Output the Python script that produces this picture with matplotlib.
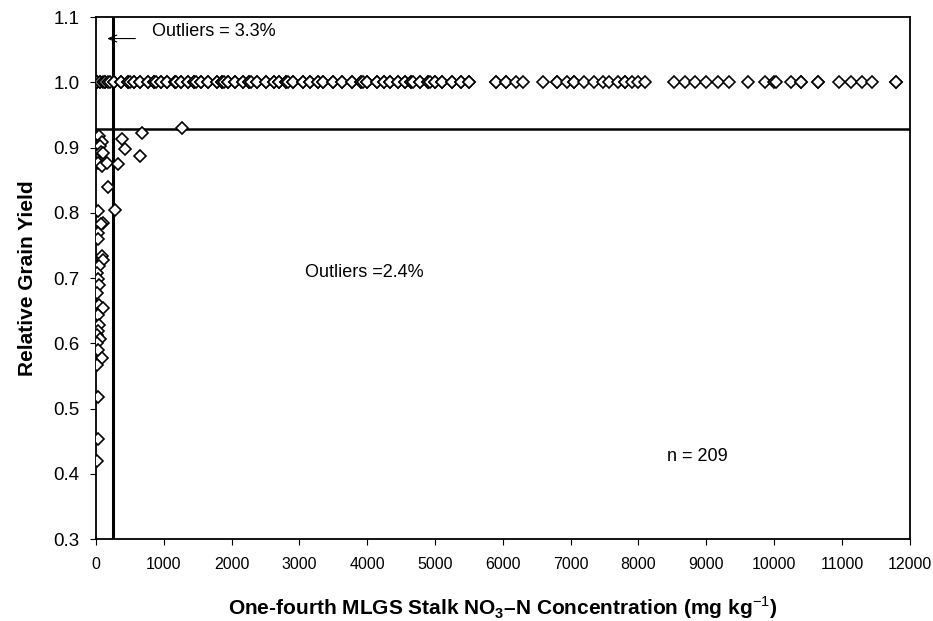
import matplotlib
matplotlib.use("Agg")
import matplotlib.pyplot as plt

plt.rcParams['font.family'] = ['Liberation Sans', 'DejaVu Sans']
plt.rcParams['mathtext.fontset'] = 'custom'
plt.rcParams['mathtext.rm'] = 'Liberation Sans'
plt.rcParams['mathtext.bf'] = 'Liberation Sans:bold'

# Stalk NO3-N (mg/kg) for sites reaching maximum yield (relative yield = 1.0)
nitrate_full_yield = [
    20, 20, 60, 60, 95, 130, 130, 180, 210,
    260, 260, 360, 360, 470, 470, 500, 560, 560, 650, 650, 760, 760,
    850, 850, 880, 950, 950, 1050, 1050, 1160, 1160, 1180, 1250, 1250,
    1360, 1360, 1450, 1450, 1480, 1550, 1550, 1650, 1650, 1780, 1780,
    1850, 1850, 1880, 1950, 1950, 2050, 2050, 2170, 2170, 2250, 2250,
    2280, 2380, 2380, 2500, 2500, 2620, 2620, 2700, 2700, 2800, 2800,
    2830, 2900, 2900, 3050, 3050, 3150, 3150, 3280, 3280, 3350, 3350,
    3500, 3500, 3620, 3620, 3780, 3780, 3900, 3900, 3930, 4000, 4000,
    4150, 4150, 4250, 4250, 4330, 4330, 4450, 4450, 4560, 4560, 4650,
    4650, 4680, 4780, 4780, 4900, 4900, 4930, 5000, 5000, 5100, 5100,
    5250, 5250, 5380, 5380, 5500, 5500,
    5900, 5900, 6050, 6050, 6200, 6300, 6590,
    6800, 6800, 6950, 7050, 7050, 7200, 7350, 7480,
    7570, 7700, 7800, 7800, 7900, 8000, 8100,
    8520, 8680, 8840, 9000, 9170, 9330, 9620,
    9860, 10000, 10030, 10250, 10400, 10400, 10650, 10650,
    10960, 11130, 11300, 11450, 11800, 11800,
]

# Sites below maximum yield: stalk NO3-N (mg/kg) and relative grain yield
nitrate_deficient = [
    50, 84, 59, 69, 108, 34, 93, 157, 182, 379, 428, 330, 674, 649, 1264,
    280, 34, 108, 69, 34, 34, 84, 108, 49, 20, 34, 49, 20, 49, 98, 34, 49,
    34, 20, 59, 10, 34, 84, 20, 34, 34, 20,
]
yield_deficient = [
    0.918, 0.909, 0.902, 0.893, 0.891, 0.876, 0.871, 0.876, 0.840, 0.913,
    0.897, 0.874, 0.922, 0.887, 0.930,
    0.804, 0.802, 0.785, 0.783, 0.769, 0.760, 0.734, 0.728, 0.719, 0.708,
    0.698, 0.690, 0.677, 0.659, 0.654, 0.644, 0.628, 0.619, 0.613, 0.606,
    0.600, 0.590, 0.577, 0.567, 0.518, 0.453, 0.419,
]

critical_nitrate = 250
critical_yield = 0.928

fig = plt.figure(figsize=(9.33, 6.21), dpi=100)
ax = fig.add_axes([0.103, 0.132, 0.872, 0.8406])

marker_style = dict(marker='D', linestyle='none', markersize=6.3,
                    markerfacecolor='white', markeredgecolor='black',
                    markeredgewidth=1.2, zorder=3)
ax.plot(nitrate_full_yield, [1.0] * len(nitrate_full_yield), **marker_style)
ax.plot(nitrate_deficient, yield_deficient, **marker_style)

ax.axhline(critical_yield, color='black', lw=1.8, zorder=2)
ax.axvline(critical_nitrate, color='black', lw=2.2, zorder=2)

ax.set_xlim(0, 12000)
ax.set_ylim(0.3, 1.1)
ax.set_xticks(range(0, 12001, 1000))
ax.set_yticks([0.3, 0.4, 0.5, 0.6, 0.7, 0.8, 0.9, 1.0, 1.1])
ax.set_yticklabels([f"{v:.1f}" for v in ax.get_yticks()])
ax.tick_params(axis='both', direction='out', length=4, width=0.8, colors='black')
ax.tick_params(axis='y', labelsize=13.5, pad=8)
ax.tick_params(axis='x', labelsize=11.5, pad=9)
for s in ax.spines.values():
    s.set_linewidth(1.3)

ax.annotate('', xy=(120, 1.067), xytext=(620, 1.067),
            arrowprops=dict(arrowstyle='->,head_length=0.6,head_width=0.25',
                            lw=0.8, color='black'))
ax.text(826, 1.078, 'Outliers = 3.3%', fontsize=13, va='center', ha='left')
ax.text(3083, 0.709, 'Outliers =2.4%', fontsize=13, va='center', ha='left')
ax.text(8420, 0.426, 'n = 209', fontsize=13, va='center', ha='left')

ax.set_ylabel('Relative Grain Yield', fontsize=15, fontweight='bold', labelpad=12)
ax.set_xlabel(r'One-fourth MLGS Stalk NO$_\mathbf{3}$–N Concentration (mg kg$^{-1}$)',
              fontsize=15, fontweight='bold', labelpad=16)

fig.savefig('out.png', dpi=100, facecolor='white')
